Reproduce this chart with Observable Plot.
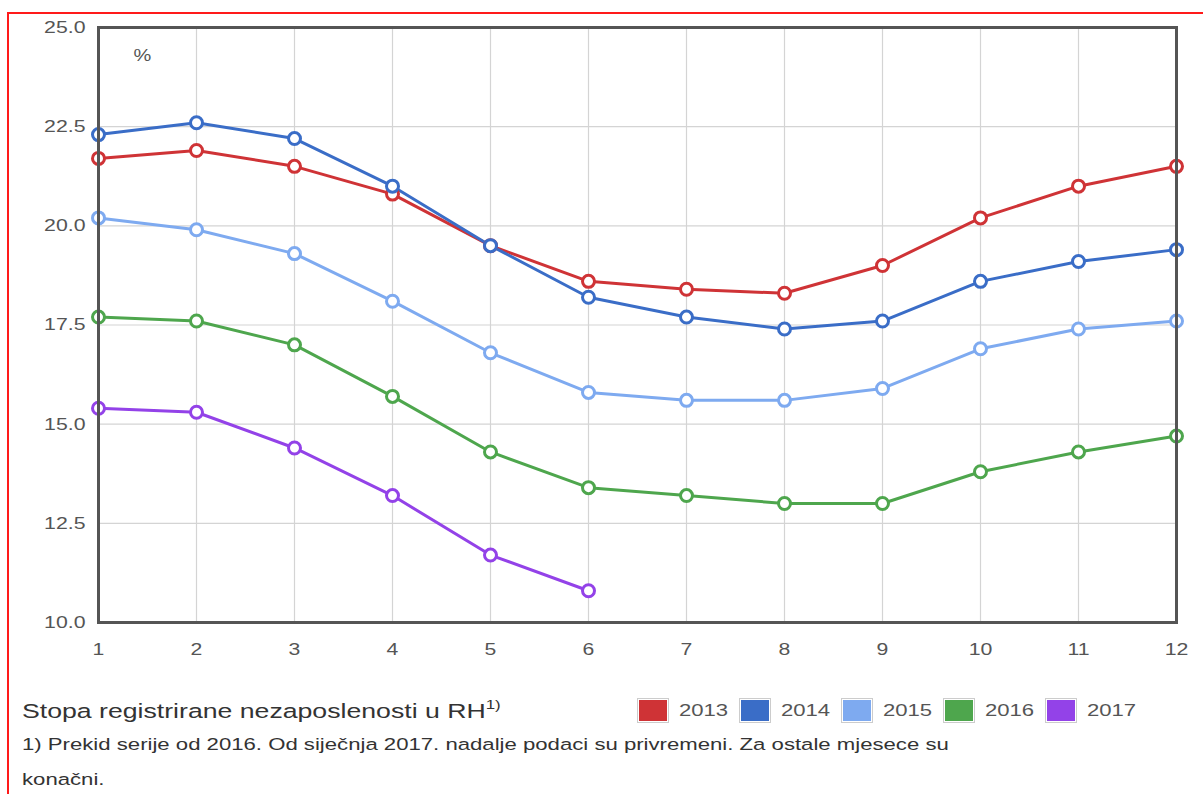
<!DOCTYPE html>
<html>
<head>
<meta charset="utf-8">
<script src="https://cdn.jsdelivr.net/npm/d3@7"></script>
<script src="https://cdn.jsdelivr.net/npm/@observablehq/plot@0.6"></script>
<style>
  html, body { margin: 0; padding: 0; background: #fff; }
  body { font-family: "Liberation Sans", Arial, sans-serif; color: #444; }
  #wrap { position: relative; width: 1203px; height: 794px; overflow: hidden; }
  #redbox { position: absolute; left: 7px; top: 12px; width: 1300px; height: 900px;
            border-top: 2px solid #ff1a1a; border-left: 2px solid #ff1a1a; }
  #chart { position: absolute; left: 0; top: 0; }
  .stretch { display: inline-block; transform: scaleX(1.3); transform-origin: left center; white-space: nowrap; }
  #title { position: absolute; left: 22px; top: 697px; font-size: 20.5px; color: #333; }
  #title sup { font-size: 13px; vertical-align: 9px; }
  #legend { position: absolute; left: 637px; top: 698px; display: flex; align-items: center; }
  .item { display: flex; align-items: center; margin-right: 7px; }
  .sw { width: 28px; height: 21px; border: 1px solid #ccc; padding: 1px; box-sizing: content-box; }
  .sw div { width: 100%; height: 100%; }
  .lab { width: 53px; margin-left: 10px; font-size: 17px; color: #555; }
  #foot1, #foot2 { position: absolute; left: 22px; font-size: 16.3px; color: #333; }
  #foot1 { top: 735px; }
  #foot2 { top: 770px; }
  #foot1 .stretch, #foot2 .stretch { transform: scaleX(1.36); }
</style>
</head>
<body>
<div id="wrap">
  <div id="redbox"></div>
  <div id="chart"></div>
  <div id="title"><span class="stretch">Stopa registrirane nezaposlenosti u RH<sup>1)</sup></span></div>
  <div id="legend"></div>
  <div id="foot1"><span class="stretch">1) Prekid serije od 2016. Od siječnja 2017. nadalje podaci su privremeni. Za ostale mjesece su</span></div>
  <div id="foot2"><span class="stretch">konačni.</span></div>
</div>
<script>
// ---- data ----
const months = [1, 2, 3, 4, 5, 6, 7, 8, 9, 10, 11, 12];
const yTicks = [10, 12.5, 15, 17.5, 20, 22.5, 25];
const years = ["2013", "2014", "2015", "2016", "2017"];
const colors = ["#cf3336", "#3a6dc7", "#7eaaf0", "#4ea64d", "#9342e8"];

const rate2013 = [21.7, 21.9, 21.5, 20.8, 19.5, 18.6, 18.4, 18.3, 19.0, 20.2, 21.0, 21.5];
const rate2014 = [22.3, 22.6, 22.2, 21.0, 19.5, 18.2, 17.7, 17.4, 17.6, 18.6, 19.1, 19.4];
const rate2015 = [20.2, 19.9, 19.3, 18.1, 16.8, 15.8, 15.6, 15.6, 15.9, 16.9, 17.4, 17.6];
const rate2016 = [17.7, 17.6, 17.0, 15.7, 14.3, 13.4, 13.2, 13.0, 13.0, 13.8, 14.3, 14.7];
const rate2017 = [15.4, 15.3, 14.4, 13.2, 11.7, 10.8];

const series = [rate2013, rate2014, rate2015, rate2016, rate2017];
const data = years.flatMap((yr, i) => series[i].map((v, j) => ({ month: months[j], value: v, year: yr })));

const chart = Plot.plot({
  width: 1203,
  height: 680,
  marginLeft: 98,
  marginRight: 27,
  marginTop: 27,
  marginBottom: 58,
  style: { fontFamily: "'Liberation Sans', Arial, sans-serif", fontSize: "17px", color: "#555", background: "transparent" },
  x: { domain: [1, 12], ticks: months, tickFormat: d => String(d), tickSize: 0, tickPadding: 20, label: null },
  y: { domain: [10, 25], ticks: yTicks, tickFormat: d => d.toFixed(1), tickSize: 0, tickPadding: 13, label: null },
  color: { domain: years, range: colors },
  marks: [
    Plot.gridX(months, { stroke: "#d4d4d4", strokeOpacity: 1, strokeWidth: 1.2 }),
    Plot.gridY(yTicks, { stroke: "#d4d4d4", strokeOpacity: 1, strokeWidth: 1.2 }),
    Plot.line(data, { x: "month", y: "value", z: "year", stroke: "year", strokeWidth: 3 }),
    Plot.dot(data, { x: "month", y: "value", stroke: "year", fill: "white", r: 6, strokeWidth: 3 }),
    Plot.frame({ stroke: "#555", strokeWidth: 3 }),
    Plot.text(["%"], { frameAnchor: "top-left", dx: 35, dy: 22, fontSize: 16, fill: "#555" }),
    Plot.axisX({ ticks: months, tickFormat: d => String(d), tickSize: 0, tickPadding: 20 }),
    Plot.axisY({ ticks: yTicks, tickFormat: d => d.toFixed(1), tickSize: 0, tickPadding: 13 })
  ]
});
document.getElementById("chart").appendChild(chart);

// horizontally stretched text as in the reference
chart.querySelectorAll("text").forEach(t => {
  const w = t.getComputedTextLength();
  if (w > 0) {
    t.setAttribute("textLength", (w * 1.25).toFixed(1));
    t.setAttribute("lengthAdjust", "spacingAndGlyphs");
  }
});

// legend
const legend = document.getElementById("legend");
years.forEach((yr, i) => {
  const item = document.createElement("div");
  item.className = "item";
  item.innerHTML = `<div class="sw"><div style="background:${colors[i]}"></div></div><div class="lab"><span class="stretch">${yr}</span></div>`;
  legend.appendChild(item);
});
</script>
</body>
</html>
